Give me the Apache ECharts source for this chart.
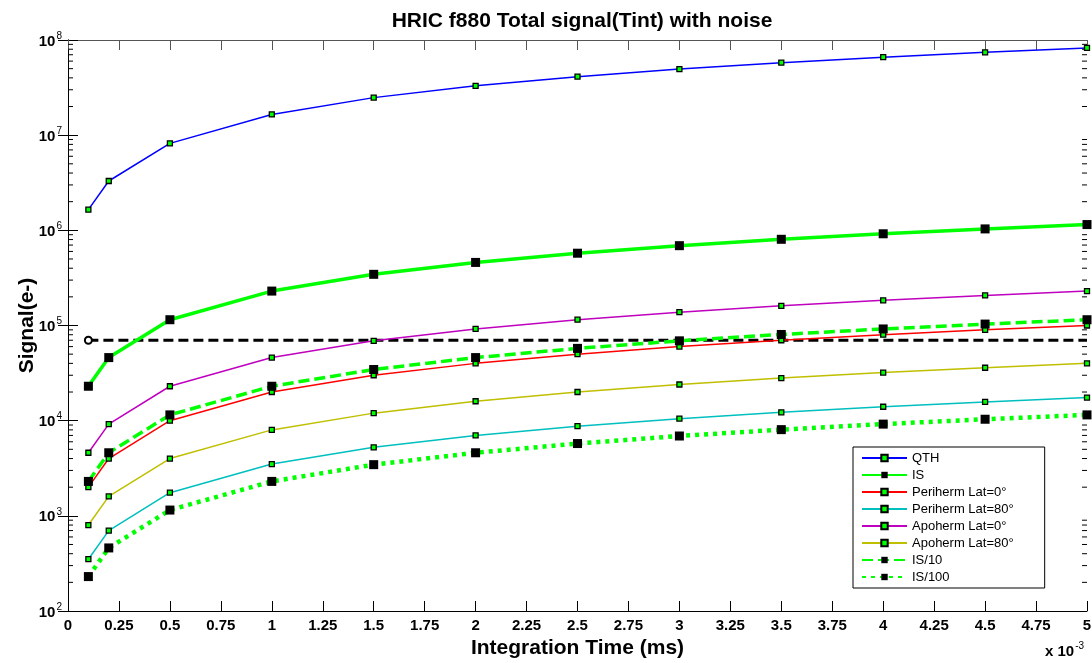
<!DOCTYPE html>
<html>
<head>
<meta charset="utf-8">
<script src="https://cdn.jsdelivr.net/npm/echarts@6/dist/echarts.min.js"></script>
<style>html,body{margin:0;padding:0;background:#fff}#c{width:1092px;height:663px}</style>
</head>
<body>
<div id="c"></div>
<script>
// ---- data ----
const tint = [0.1, 0.2, 0.5, 1, 1.5, 2, 2.5, 3, 3.5, 4, 4.5, 5];
const qth = [1.65e6, 3.3e6, 8.2e6, 1.65e7, 2.48e7, 3.3e7, 4.12e7, 4.95e7, 5.78e7, 6.6e7, 7.42e7, 8.25e7];
const isSig = [2.3e4, 4.6e4, 1.15e5, 2.3e5, 3.45e5, 4.6e5, 5.75e5, 6.9e5, 8.05e5, 9.2e5, 1.035e6, 1.15e6];
const peri0 = [2.0e3, 4.0e3, 1.0e4, 2.0e4, 3.0e4, 4.0e4, 5.0e4, 6.0e4, 7.0e4, 8.0e4, 9.0e4, 1.0e5];
const peri80 = [350, 700, 1750, 3500, 5250, 7000, 8750, 1.05e4, 1.225e4, 1.4e4, 1.575e4, 1.75e4];
const apo0 = [4.6e3, 9.2e3, 2.3e4, 4.6e4, 6.9e4, 9.2e4, 1.15e5, 1.38e5, 1.61e5, 1.84e5, 2.07e5, 2.3e5];
const apo80 = [800, 1600, 4000, 8000, 1.2e4, 1.6e4, 2.0e4, 2.4e4, 2.8e4, 3.2e4, 3.6e4, 4.0e4];
const is10 = [2.3e3, 4.6e3, 1.15e4, 2.3e4, 3.45e4, 4.6e4, 5.75e4, 6.9e4, 8.05e4, 9.2e4, 1.035e5, 1.15e5];
const is100 = [230, 460, 1150, 2300, 3450, 4600, 5750, 6900, 8050, 9200, 1.035e4, 1.15e4];
const noiseX = [0.1, 5];
const noiseY = [7e4, 7e4];
const yMin = 1e2, yMax = 1e8;
const minorMult = [2, 3, 4, 5, 6, 7, 8, 9];
const decades = [1e2, 1e3, 1e4, 1e5, 1e6, 1e7];

const minorVals = [];
decades.forEach(d => minorMult.forEach(m => minorVals.push([0, d * m])));
const pair = (xs, ys) => xs.map((x, i) => [x, ys[i]]);

const smallMarker = {color: '#00ff00', borderColor: '#000', borderWidth: 1.3};
function thinSeries(name, ys, color) {
  return {
    name, type: 'line', data: pair(tint, ys), symbol: 'rect', symbolSize: 5,
    itemStyle: smallMarker, lineStyle: {color, width: 1.5}, color,
    z: 3
  };
}
function isSeries(name, ys, lineType, w) {
  return {
    name, type: 'line', data: pair(tint, ys), symbol: 'rect', symbolSize: 9,
    itemStyle: {color: '#000'}, lineStyle: {color: '#00ff00', width: w, type: lineType, cap: 'butt'},
    z: 4
  };
}

const chart = echarts.init(document.getElementById('c'));
const axisColor = '#000';
const FONT = 'Liberation Sans, Arial, sans-serif';

chart.setOption({
  animation: false,
  backgroundColor: '#fff',
  textStyle: {fontFamily: FONT},
  title: {
    text: 'HRIC f880 Total signal(Tint) with noise',
    left: 577, top: 6, textAlign: 'center',
    textStyle: {fontFamily: FONT, fontSize: 21, fontWeight: 'bold', color: '#000'}
  },
  grid: {left: 68, top: 40, right: 5, bottom: 52, containLabel: false, outerBoundsMode: 'none'},
  xAxis: [{
    type: 'value', min: 0, max: 5, interval: 0.25, position: 'bottom',
    name: 'Integration Time (ms)', nameLocation: 'middle', nameGap: 27, nameMoveOverlap: false,
    nameTextStyle: {fontFamily: FONT, fontSize: 21, fontWeight: 'bold', color: '#000', verticalAlign: 'top'},
    axisLine: {show: true, lineStyle: {color: axisColor, width: 1}},
    axisTick: {show: true, inside: true, length: 10, lineStyle: {color: axisColor}},
    axisLabel: {show: true, margin: 7, fontFamily: FONT, fontSize: 15, fontWeight: 'bold', color: '#000',
      formatter: v => String(Math.round(v * 100) / 100)},
    splitLine: {show: false}
  }, {
    type: 'value', min: 0, max: 5, interval: 0.25, position: 'top',
    axisLine: {show: true, lineStyle: {color: '#555', width: 1}},
    axisTick: {show: true, inside: true, length: 10, lineStyle: {color: '#555'}},
    axisLabel: {show: false}, splitLine: {show: false}
  }],
  yAxis: [{
    type: 'log', logBase: 10, min: yMin, max: yMax, interval: 1, position: 'left',
    name: 'Signal(e-)', nameLocation: 'middle', nameGap: 30, nameRotate: 90, nameMoveOverlap: false,
    nameTextStyle: {fontFamily: FONT, fontSize: 21, fontWeight: 'bold', color: '#000'},
    axisLine: {show: true, lineStyle: {color: axisColor, width: 1}},
    axisTick: {show: true, inside: true, length: 10, lineStyle: {color: axisColor}},
    axisLabel: {
      show: true, margin: 6,
      formatter: v => '{b|10}{s|' + Math.round(Math.log10(v)) + '}',
      rich: {
        b: {fontFamily: FONT, fontSize: 15, fontWeight: 'bold', color: '#000', verticalAlign: 'bottom', lineHeight: 18},
        s: {fontFamily: FONT, fontSize: 10, color: '#000', verticalAlign: 'top', padding: [0, 0, 10, 1], lineHeight: 18}
      }
    },
    splitLine: {show: false}
  }, {
    type: 'log', logBase: 10, min: yMin, max: yMax, interval: 1, position: 'right',
    axisLine: {show: true, lineStyle: {color: axisColor, width: 1}},
    axisTick: {show: true, inside: true, length: 10, lineStyle: {color: axisColor}},
    axisLabel: {show: false}, splitLine: {show: false}
  }],
  legend: {
    orient: 'vertical', left: 853, top: 447,
    padding: [4, 31, 4, 8], itemGap: 3, itemWidth: 45, itemHeight: 8,
    backgroundColor: '#fff', borderColor: '#000', borderWidth: 1,
    textStyle: {fontFamily: FONT, fontSize: 13, color: '#000', lineHeight: 14},
    data: ['QTH', 'IS', 'Periherm Lat=0°', 'Periherm Lat=80°', 'Apoherm Lat=0°', 'Apoherm Lat=80°', 'IS/10', 'IS/100']
  },
  graphic: [{
    type: 'text', left: 1045, top: 641,
    style: {
      text: '{a|x 10}{s|-3}',
      rich: {
        a: {fontFamily: FONT, fontSize: 15, fontWeight: 'bold', fill: '#000', verticalAlign: 'bottom', lineHeight: 18},
        s: {fontFamily: FONT, fontSize: 10, fill: '#000', verticalAlign: 'top', padding: [0, 0, 10, 1], lineHeight: 18}
      }
    }
  }],
  series: [
    {
      name: 'minorTicks', type: 'custom', data: minorVals, silent: true, clip: false, z: 1,
      renderItem: (params, api) => {
        const v = api.value(1);
        const p1 = api.coord([0, v]);
        const p2 = api.coord([5, v]);
        return {type: 'group', children: [
          {type: 'line', shape: {x1: p1[0], y1: p1[1], x2: p1[0] + 5, y2: p1[1]}, style: {stroke: '#000', lineWidth: 1}},
          {type: 'line', shape: {x1: p2[0], y1: p2[1], x2: p2[0] - 5, y2: p2[1]}, style: {stroke: '#000', lineWidth: 1}}
        ]};
      }
    },
    thinSeries('QTH', qth, '#0000ff'),
    isSeries('IS', isSig, 'solid', 3.5),
    thinSeries('Periherm Lat=0°', peri0, '#ff0000'),
    thinSeries('Periherm Lat=80°', peri80, '#00bfbf'),
    thinSeries('Apoherm Lat=0°', apo0, '#bf00bf'),
    thinSeries('Apoherm Lat=80°', apo80, '#bfbf00'),
    isSeries('IS/10', is10, [11, 5], 3.5),
    isSeries('IS/100', is100, [4, 5], 4.5),
    {
      name: 'noise', type: 'line', data: pair(noiseX, noiseY),
      symbol: (v, p) => p.dataIndex === 0 ? 'circle' : 'none', symbolSize: 7,
      itemStyle: {color: '#fff', borderColor: '#000', borderWidth: 2},
      lineStyle: {color: '#000', width: 3, type: [10, 5], cap: 'butt'}, z: 2
    }
  ]
});
</script>
</body>
</html>
